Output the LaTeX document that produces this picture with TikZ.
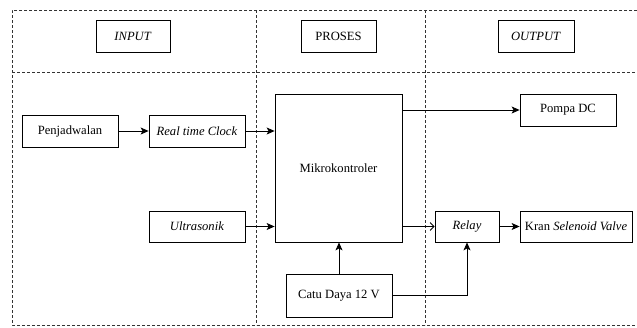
\documentclass[tikz,border=0pt]{standalone}
\usepackage{fontspec}
\setmainfont{Liberation Serif}
\usetikzlibrary{arrows.meta, positioning}
\definecolor{framegray}{HTML}{333333}

\begin{document}
\begin{tikzpicture}[x=1pt, y=-1pt,
    blok/.style={draw, line width=0.8pt, align=center, font=\fontsize{12.6}{14}\selectfont, inner sep=0pt},
    panah/.style={-{Stealth[length=8pt, width=7pt, inset=2pt]}, line width=0.8pt},
    panahbuka/.style={-{Straight Barb[length=4pt, width=8pt]}, line width=0.8pt},
    garis/.style={framegray, line width=0.6pt, dash pattern=on 3pt off 2pt}]
    \useasboundingbox (0,0) rectangle (637,327);
    % frame and columns
    \draw[garis] (637,10) -- (12,10) -- (12,325) -- (637,325);
    \draw[garis] (12,72) -- (637,72);
    \draw[garis] (256,10) -- (256,325);
    \draw[garis] (425,10) -- (425,325);
    % headers
    \node[blok, minimum width=74, minimum height=32] (input) at (133,36) {\textit{INPUT}};
    \node[blok, minimum width=75, minimum height=32] (proses) at (338.5,36) {PROSES};
    \node[blok, minimum width=76, minimum height=32] (output) at (536,36) {\textit{OUTPUT}};
    % blocks
    \node[blok, minimum width=96, minimum height=32] (jadwal) at (70,131) {Penjadwalan};
    \node[blok, minimum width=96, minimum height=32] (rtc) at (197,131) {\textit{Real time Clock}};
    \node[blok, minimum width=96, minimum height=31] (ultra) at (197,226.5) {\textit{Ultrasonik}};
    \node[blok, minimum width=127, minimum height=148] (mikro) at (338.5,168) {Mikrokontroler};
    \node[blok, minimum width=106, minimum height=43] (catu) at (339,295.5) {Catu Daya 12 V};
    \node[blok, minimum width=96, minimum height=32] (pompa) at (568,110) {Pompa DC};
    \node[blok, minimum width=64, minimum height=31] (relay) at (467,226.5) {\textit{Relay}};
    \node[blok, minimum width=112, minimum height=31] (kran) at (576,226.5) {Kran \textit{Selenoid Valve}};
    % connectors
    \draw[panah] (jadwal) -- (rtc);
    \draw[panah] (rtc) -- (rtc -| mikro.west);
    \draw[panah] (ultra) -- (ultra -| mikro.west);
    \draw[panah] (mikro.east |- pompa) -- (pompa);
    \draw[panahbuka] (mikro.east |- relay) -- (relay);
    \draw[panah] (relay) -- (kran);
    \draw[panah] (catu.north) -- (catu.north |- mikro.south);
    \draw[panah] (catu.east) -| (relay.south);
  \end{tikzpicture}
\end{document}
